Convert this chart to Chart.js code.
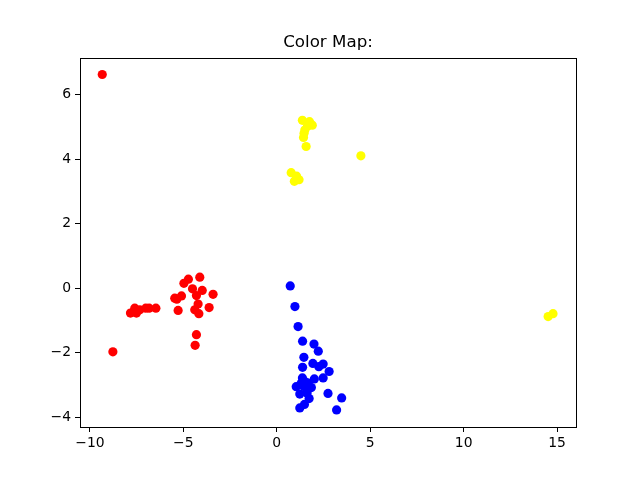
<!DOCTYPE html>
<html>
<head>
<meta charset="utf-8">
<script src="https://cdn.jsdelivr.net/npm/chart.js@4/dist/chart.umd.min.js"></script>
<style>
  html, body { margin: 0; padding: 0; background: #fff; }
  #wrap { width: 640px; height: 480px; }
</style>
</head>
<body>
<div id="wrap"><canvas id="chart" width="640" height="480"></canvas></div>
<script>
// Points
const redX = [-9.34, -8.77, -7.83, -7.60, -7.51, -7.33, -7.01, -6.83, -6.47, -5.46, -5.35, -5.28, -5.10,
  -4.97, -4.73, -4.51, -4.39, -4.30, -4.30, -4.37, -4.21, -4.17, -4.12, -3.99, -3.62, -3.41];
const redY = [6.62, -1.97, -0.77, -0.62, -0.77, -0.67, -0.62, -0.62, -0.62, -0.31, -0.34, -0.69, -0.24,
  0.15, 0.28, -0.02, -0.67, -0.23, -1.44, -1.77, -0.49, -0.79, 0.34, -0.07, -0.60, -0.19];

const blueX = [0.72, 0.97, 1.14, 1.38, 1.99, 2.22, 1.45, 1.38, 1.93, 2.25, 2.48, 2.80, 2.48, 2.01,
  1.68, 1.37, 1.04, 1.23, 1.59, 1.73, 1.48, 1.23, 2.74, 3.47, 3.20, 1.50, 1.85, 1.30, 1.62, 1.40];
const blueY = [0.07, -0.57, -1.19, -1.64, -1.73, -1.95, -2.14, -2.45, -2.33, -2.43, -2.35, -2.58, -2.78, -2.81,
  -2.94, -2.78, -3.05, -3.28, -3.14, -3.42, -3.60, -3.71, -3.26, -3.40, -3.77, -2.89, -3.08, -2.95, -3.25, -3.02];

const yellowX = [1.37, 1.75, 1.90, 1.64, 1.50, 1.46, 1.43, 1.57, 4.50, 0.77, 1.06, 0.94, 1.19, 14.52, 14.78];
const yellowY = [5.20, 5.16, 5.05, 5.02, 4.90, 4.80, 4.67, 4.39, 4.10, 3.58, 3.47, 3.31, 3.36, -0.88, -0.79];

const xTicks = [-10, -5, 0, 5, 10, 15];
const yTicks = [-4, -2, 0, 2, 4, 6];

function toPoints(xs, ys) {
  return xs.map((x, i) => ({ x: x, y: ys[i] }));
}

function minus(v) {
  return String(v).replace("-", "\u2212");
}

// Cadre complet autour de la zone du graphique
const framePlugin = {
  id: "frame",
  afterDatasetsDraw(chart) {
    const a = chart.chartArea;
    const ctx = chart.ctx;
    ctx.save();
    ctx.strokeStyle = "#000";
    ctx.lineWidth = 1;
    ctx.strokeRect(Math.round(a.left) + 0.5, Math.round(a.top) + 0.5,
      Math.round(a.right - a.left), Math.round(a.bottom - a.top));
    ctx.restore();
  },
};

const font = { family: "'DejaVu Sans', sans-serif", size: 13.9 };

new Chart(document.getElementById("chart"), {
  type: "scatter",
  data: {
    datasets: [
      { data: toPoints(redX, redY), backgroundColor: "#ff0000" },
      { data: toPoints(blueX, blueY), backgroundColor: "#0000ff" },
      { data: toPoints(yellowX, yellowY), backgroundColor: "#ffff00" },
    ],
  },
  options: {
    responsive: false,
    animation: false,
    devicePixelRatio: 1,
    elements: {
      point: { radius: 4.6, hoverRadius: 4.6, borderWidth: 0 },
    },
    layout: { padding: { left: 0, right: 64, top: 0, bottom: 0 } },
    scales: {
      x: {
        type: "linear",
        min: -10.53,
        max: 16.01,
        afterBuildTicks: (s) => { s.ticks = xTicks.map((v) => ({ value: v })); },
        afterFit: (s) => { s.height = 53; },
        grid: { drawOnChartArea: false, drawTicks: true, tickLength: 5, color: "#000" },
        border: { color: "#000" },
        ticks: { color: "#000", font: font, padding: 3, maxRotation: 0, callback: (v) => minus(v) },
      },
      y: {
        type: "linear",
        min: -4.30,
        max: 7.13,
        afterBuildTicks: (s) => { s.ticks = yTicks.map((v) => ({ value: v })); },
        afterFit: (s) => { s.width = 80; },
        grid: { drawOnChartArea: false, drawTicks: true, tickLength: 5, color: "#000" },
        border: { color: "#000" },
        ticks: { color: "#000", font: font, padding: 4, callback: (v) => minus(v) },
      },
    },
    plugins: {
      legend: { display: false },
      tooltip: { enabled: false },
      title: {
        display: true,
        fullSize: false,
        text: "Color Map:",
        color: "#000",
        font: { family: "'DejaVu Sans', sans-serif", size: 16.7, weight: "normal" },
        padding: { top: 33, bottom: 5 },
      },
    },
  },
  plugins: [framePlugin],
});
</script>
</body>
</html>
